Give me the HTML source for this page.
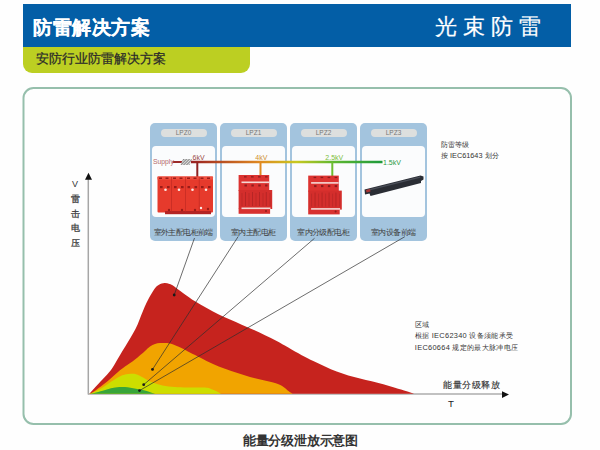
<!DOCTYPE html>
<html><head><meta charset="utf-8"><style>
*{margin:0;padding:0;box-sizing:border-box}
html,body{width:600px;height:450px;overflow:hidden;background:#fefefe;font-family:"Liberation Sans",sans-serif}
.a{position:absolute;white-space:nowrap}
#hdr{position:absolute;left:23px;top:4px;width:548px;height:43px;background:#035ea6}
#t1{position:absolute;left:33px;top:17px;font-size:19px;font-weight:bold;color:#fff;line-height:22px;letter-spacing:0.5px;-webkit-text-stroke:0.15px #fff}
#t2{position:absolute;left:435px;top:14.5px;font-size:21.5px;color:#fff;line-height:24px;letter-spacing:6px;-webkit-text-stroke:0.2px #fff}
#gb{position:absolute;left:23px;top:47px;width:227px;height:26px;background:#bccf22;border-radius:0 0 9px 9px}
#st{position:absolute;left:36px;top:50.5px;font-size:12.6px;color:#2a2a2a;line-height:16px;-webkit-text-stroke:0.25px #2a2a2a}
#panel{position:absolute;left:0;top:0}
.card{position:absolute;top:123px;width:67px;height:118px;background:#a3c4de;border-radius:5px}
.pill{position:absolute;left:10.5px;top:6px;width:46px;height:8px;border-radius:4px;background:#dddfde;font-size:6.5px;line-height:8px;text-align:center;color:#777}
.inner{position:absolute;left:2px;top:23px;width:63px;height:71px;border-radius:4px;background:#fbfcfd}
.cap{position:absolute;left:-0.3px;top:104.5px;width:67px;text-align:center;font-size:8px;letter-spacing:-0.6px;line-height:10px;color:#3c3c3c}
svg{position:absolute;left:0;top:0}
</style></head><body>
<div id="hdr"></div>
<div id="t1">防雷解决方案</div>
<div id="t2">光束防雷</div>
<div id="gb"></div>
<div id="st">安防行业防雷解决方案</div>
<svg id="panel" width="600" height="450"><rect x="23.5" y="88" width="547.5" height="336" rx="10" ry="10" fill="none" stroke="#96bfac" stroke-width="2"/></svg>
<div class="card" style="left:150px"><div class="pill">LPZ0</div><div class="inner"></div><div class="cap">室外主配电柜前端</div></div>
<div class="card" style="left:220px"><div class="pill">LPZ1</div><div class="inner"></div><div class="cap">室内主配电柜</div></div>
<div class="card" style="left:290px"><div class="pill">LPZ2</div><div class="inner"></div><div class="cap">室内分级配电柜</div></div>
<div class="card" style="left:360px"><div class="pill">LPZ3</div><div class="inner"></div><div class="cap">室内设备前端</div></div>

<svg width="600" height="450" viewBox="0 0 600 450">
<defs>
<linearGradient id="lg" x1="192" y1="0" x2="382" y2="0" gradientUnits="userSpaceOnUse">
<stop offset="0" stop-color="#9a2222"/>
<stop offset="0.36" stop-color="#e08a20"/>
<stop offset="0.55" stop-color="#c8c820"/>
<stop offset="0.74" stop-color="#60b830"/>
<stop offset="1" stop-color="#1e9a3c"/>
</linearGradient>
<pattern id="hatch" width="2" height="2" patternUnits="userSpaceOnUse" patternTransform="rotate(45)"><rect width="1" height="2" fill="#888"/><rect x="1" width="1" height="2" fill="#ddd"/></pattern>
</defs>
<!-- axes -->
<line x1="88.3" y1="178" x2="88.3" y2="394.5" stroke="#a6a6a6" stroke-width="1.5"/>
<path d="M85 179.8 L92 179.8 L88.5 172.8 Z" fill="#111"/>
<line x1="88" y1="394" x2="503" y2="394" stroke="#adadad" stroke-width="1.7"/>
<path d="M502 391.3 L502 398 L509 394.6 Z" fill="#111"/>
<!-- chart -->
<path d="M89.5 393.8 C90.3 392.9 92.1 390.7 94.3 388.3 C96.5 385.9 99.9 382.2 102.7 379.2 C105.5 376.1 108.6 373.2 111.0 370.0 C113.4 366.8 115.2 363.1 117.1 360.0 C119.0 356.9 120.6 354.1 122.4 351.1 C124.2 348.1 126.0 345.2 127.8 342.2 C129.6 339.2 131.5 336.3 133.1 333.3 C134.7 330.3 136.3 327.3 137.6 324.4 C138.9 321.4 139.9 318.6 141.1 315.6 C142.3 312.7 143.4 309.7 144.7 306.7 C146.0 303.7 147.5 300.8 149.1 297.8 C150.7 294.8 152.8 291.1 154.4 288.9 C156.1 286.7 157.3 285.8 159.0 284.8 C160.7 283.8 162.8 283.2 164.5 283.1 C166.2 283.0 167.9 283.5 169.5 284.0 C171.1 284.5 171.7 284.7 174.0 286.2 C176.3 287.7 179.8 290.7 183.3 293.2 C186.8 295.7 191.1 298.9 195.0 301.3 C198.9 303.8 202.8 305.8 206.7 307.9 C210.6 310.0 214.4 312.3 218.3 314.2 C222.2 316.1 226.1 317.8 230.0 319.5 C233.9 321.2 237.8 323.0 241.7 324.7 C245.6 326.4 249.4 328.1 253.3 329.8 C257.2 331.6 261.1 333.3 265.0 335.2 C268.9 337.1 272.8 338.9 276.7 341.0 C280.6 343.1 284.1 345.1 288.3 347.5 C292.5 349.9 297.5 352.9 301.7 355.2 C305.9 357.4 309.4 359.1 313.3 361.0 C317.2 362.9 321.1 364.6 325.0 366.4 C328.9 368.1 332.8 370.0 336.7 371.5 C340.6 373.0 344.4 374.3 348.3 375.5 C352.2 376.7 356.1 377.5 360.0 378.5 C363.9 379.5 367.8 380.3 371.7 381.3 C375.6 382.3 379.4 383.2 383.3 384.3 C387.2 385.4 391.1 386.6 395.0 387.8 C398.9 389.0 403.5 390.3 406.7 391.3 C409.9 392.3 412.8 393.4 414.0 393.8 Z" fill="#c6231e"/>
<path d="M89.5 393.8 C90.3 393.4 92.1 392.7 94.3 391.2 C96.5 389.7 99.9 387.1 102.7 385.0 C105.5 382.9 108.5 380.5 111.0 378.3 C113.5 376.1 115.7 374.0 118.0 372.0 C120.3 370.0 122.2 368.6 125.0 366.5 C127.8 364.4 131.7 362.1 135.0 359.5 C138.3 356.9 142.5 353.2 145.0 351.0 C147.5 348.8 148.3 347.7 150.0 346.5 C151.7 345.3 153.3 344.6 155.0 344.0 C156.7 343.4 158.3 343.2 160.0 343.0 C161.7 342.8 163.3 342.9 165.0 343.0 C166.7 343.1 167.7 342.9 170.0 343.5 C172.3 344.1 175.3 345.3 178.7 346.8 C182.1 348.3 186.8 350.9 190.3 352.7 C193.9 354.5 196.3 355.6 200.0 357.5 C203.7 359.4 208.3 361.9 212.5 363.8 C216.7 365.7 220.8 367.3 225.0 368.8 C229.2 370.3 233.3 371.6 237.5 373.0 C241.7 374.4 245.8 375.8 250.0 377.0 C254.2 378.2 258.3 379.0 262.5 380.0 C266.7 381.0 271.7 381.9 275.0 383.0 C278.3 384.1 280.2 384.9 282.5 386.3 C284.8 387.7 287.1 390.1 288.8 391.3 C290.5 392.6 291.9 393.4 292.5 393.8 Z" fill="#f1a400"/>
<path d="M89.5 393.8 C90.3 393.5 92.1 393.1 94.3 392.0 C96.5 390.9 99.9 389.2 102.7 387.5 C105.5 385.8 108.2 383.5 111.0 381.7 C113.8 379.9 117.0 377.9 119.3 376.7 C121.6 375.5 123.0 375.0 125.0 374.5 C127.0 374.0 129.2 373.9 131.0 373.8 C132.8 373.8 134.0 373.6 136.0 374.2 C138.0 374.8 140.3 376.1 143.0 377.5 C145.7 378.9 148.8 381.0 152.0 382.3 C155.2 383.6 158.7 384.7 162.5 385.5 C166.3 386.3 170.8 386.7 175.0 387.0 C179.2 387.3 182.5 387.4 187.5 387.5 C192.5 387.6 200.8 387.2 205.0 387.5 C209.2 387.8 210.2 388.7 212.5 389.5 C214.8 390.3 217.4 391.8 218.8 392.5 C220.2 393.2 220.6 393.6 221.0 393.8 Z" fill="#cdde00"/>
<path d="M89.5 393.8 C90.3 393.6 92.1 393.4 94.3 392.9 C96.5 392.4 99.9 391.6 102.7 390.8 C105.5 390.0 108.2 388.9 111.0 388.3 C113.8 387.7 116.5 387.3 119.3 387.1 C122.1 386.9 124.9 387.0 127.7 387.3 C130.5 387.6 133.1 388.2 136.0 388.7 C138.9 389.2 142.5 389.9 145.0 390.5 C147.5 391.1 149.3 391.9 151.0 392.5 C152.7 393.1 154.3 393.6 155.0 393.8 Z" fill="#38a53a"/>
<g stroke="#2e2e2e" stroke-width="0.7" fill="none">
<line x1="194.5" y1="238" x2="174.2" y2="295"/>
<line x1="238.2" y1="236.5" x2="152.5" y2="369.4"/>
<line x1="314.5" y1="238.3" x2="143.7" y2="384.7"/>
<line x1="404.8" y1="236.7" x2="139.5" y2="390.6"/>
</g>
<g fill="#1a1a1a">
<circle cx="174.2" cy="295" r="1.4"/>
<circle cx="152.5" cy="369.4" r="1.4"/>
<circle cx="143.7" cy="384.7" r="1.4"/>
<circle cx="139.5" cy="390.6" r="1.4"/>
</g>
<!-- supply line -->
<line x1="172.5" y1="162" x2="182" y2="162" stroke="#9a2a2a" stroke-width="2"/>
<path d="M183 159 L192 159 L189.5 165 L180.5 165 Z" fill="url(#hatch)"/>
<line x1="191" y1="162" x2="382.5" y2="162" stroke="url(#lg)" stroke-width="2.4"/>
<line x1="197.3" y1="162" x2="197.3" y2="177" stroke="#8e2323" stroke-width="2"/>
<line x1="260.5" y1="162" x2="260.5" y2="175" stroke="#e08a20" stroke-width="2"/>
<line x1="332.3" y1="162" x2="332.3" y2="176" stroke="#6cbd2e" stroke-width="2"/>
<!-- device 1 -->
<g>
<rect x="157.5" y="176.5" width="55.5" height="36" rx="1" fill="#e63a2c"/>
<rect x="157.5" y="176.5" width="55.5" height="3" fill="#ef5040"/>
<rect x="165" y="211" width="46" height="3.2" fill="#b42424"/>

<g stroke="#c02a22" stroke-width="0.7"><line x1="171.5" y1="177" x2="171.5" y2="212"/><line x1="185.5" y1="177" x2="185.5" y2="212"/><line x1="199.3" y1="177" x2="199.3" y2="212"/></g>
<g fill="#9a1c18">
<rect x="159" y="177.5" width="3" height="1.5"/><rect x="165.5" y="177.5" width="3" height="1.5"/>
<rect x="173" y="177.5" width="3" height="1.5"/><rect x="179.5" y="177.5" width="3" height="1.5"/>
<rect x="187" y="177.5" width="3" height="1.5"/><rect x="193.5" y="177.5" width="3" height="1.5"/>
<rect x="200.5" y="177.5" width="3" height="1.5"/><rect x="207" y="177.5" width="3" height="1.5"/>
<rect x="160" y="186" width="2.6" height="2.2"/><rect x="167" y="186" width="2.6" height="2.2"/>
<rect x="174" y="186" width="2.6" height="2.2"/><rect x="181" y="186" width="2.6" height="2.2"/>
<rect x="187.5" y="186" width="2.6" height="2.2"/><rect x="194.5" y="186" width="2.6" height="2.2"/>
<rect x="201" y="186" width="2.6" height="2.2"/><rect x="208" y="186" width="2.6" height="2.2"/>
<circle cx="169" cy="210" r="1.2"/><circle cx="182" cy="210" r="1.2"/><circle cx="195" cy="210" r="1.2"/><circle cx="208" cy="209" r="1.2"/>
</g>
<g fill="#fbe8e4"><circle cx="165.5" cy="189.8" r="1.3"/><circle cx="179" cy="189.8" r="1.3"/><circle cx="192.5" cy="189.8" r="1.3"/><circle cx="206" cy="189.8" r="1.3"/><circle cx="201" cy="208" r="1.2"/></g>
</g>
<!-- device 2 -->
<g id="d2">
<rect x="238.6" y="175" width="30.6" height="16" fill="#dc3330"/>
<rect x="238.6" y="190" width="33.6" height="19" fill="#d42e2c"/>
<rect x="238.6" y="208.5" width="31.5" height="5.3" fill="#d83130"/>
<rect x="241.5" y="181.5" width="27.5" height="1.6" fill="#f4d8d4"/>
<rect x="241.5" y="207.5" width="29" height="1.6" fill="#f4d8d4"/>
<g fill="#8e1c1c">
<rect x="244" y="176.2" width="2.6" height="1.3"/><rect x="251" y="176.2" width="2.6" height="1.3"/><rect x="258" y="176.2" width="2.6" height="1.3"/><rect x="265" y="176.2" width="2.6" height="1.3"/>
<rect x="244.5" y="184.5" width="2.4" height="2"/><rect x="251.4" y="184.5" width="2.4" height="2"/><rect x="258.3" y="184.5" width="2.4" height="2"/><rect x="265.1" y="184.5" width="2.4" height="2"/>
<circle cx="266" cy="211" r="1"/>
</g>
<g stroke="#a82222" stroke-width="0.8" opacity="0.8"><line x1="245.5" y1="192" x2="245.5" y2="206"/><line x1="252.5" y1="192" x2="252.5" y2="206"/><line x1="259.5" y1="192" x2="259.5" y2="206"/><line x1="266.3" y1="192" x2="266.3" y2="206"/></g>
<g stroke="#b02626" stroke-width="0.6"><line x1="242" y1="193" x2="242" y2="206"/><line x1="249" y1="193" x2="249" y2="206"/><line x1="256" y1="193" x2="256" y2="206"/><line x1="263" y1="193" x2="263" y2="206"/><line x1="270" y1="193" x2="270" y2="206"/></g>
</g>
<use href="#d2" transform="translate(69.6,0.6)"/>
<!-- device 4 -->
<path d="M364.5 189.5 L420.5 175.5 L423.5 176.5 L423.5 179.5 L421 181 L421 183 L370.5 196 L369.5 193.5 L365 194.5 Z" fill="#2a2d34"/><path d="M366 190 L420 176.6 L420.3 177.8 L366.4 191.3 Z" fill="#4a4e58"/>
<path d="M366 190 L370 189 L370.5 191.5 L366.5 192.5 Z" fill="#a33"/>
</svg>
<div class="a" style="left:153px;top:157px;font-size:6.8px;line-height:9px;color:#b46a6a">Supply</div>
<div class="a" style="left:192.5px;top:152.5px;font-size:7px;line-height:9px;color:#9a4a44">6kV</div>
<div class="a" style="left:255.3px;top:152.5px;font-size:7px;line-height:9px;color:#d09030">4kV</div>
<div class="a" style="left:325.3px;top:152.5px;font-size:7px;line-height:9px;color:#7cc040">2.5kV</div>
<div class="a" style="left:383px;top:157.5px;font-size:7px;line-height:9px;color:#2a9a44">1.5kV</div>
<div class="a" style="left:441px;top:138.7px;font-size:7.3px;line-height:11.5px;color:#333">防雷等级<br>按 IEC61643 划分</div>
<div class="a" style="left:70.5px;top:179px;font-size:9px;line-height:10px;color:#333;text-align:center;width:9px">V</div>
<div class="a" style="left:70.5px;top:192px;font-size:9px;line-height:14.5px;color:#3a3a3a;text-align:center;width:9px;-webkit-text-stroke:0.25px #3a3a3a">雷<br>击<br>电<br>压</div>
<div class="a" style="left:414.8px;top:319px;font-size:7.4px;letter-spacing:0.3px;line-height:11.3px;color:#333">区域<br>根据 IEC62340 设备须能承受<br>IEC60664 规定的最大脉冲电压</div>
<div class="a" style="left:443px;top:379px;font-size:9.4px;letter-spacing:0.5px;line-height:12px;color:#333;-webkit-text-stroke:0.15px #333">能量分级释放</div>
<div class="a" style="left:448px;top:398px;font-size:9.7px;line-height:12px;color:#222">T</div>
<div class="a" style="left:242.8px;top:432.5px;font-size:12.5px;letter-spacing:-0.2px;line-height:16px;color:#333;font-weight:bold">能量分级泄放示意图</div>
</body></html>
